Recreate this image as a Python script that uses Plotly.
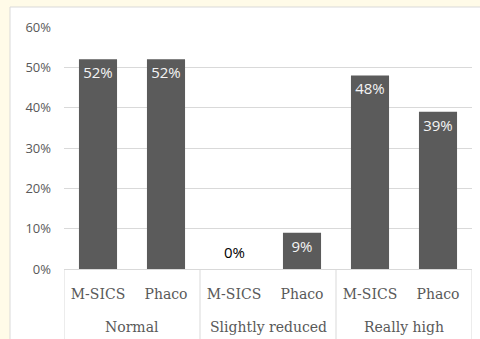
import plotly.graph_objects as go

# Outcome groups and surgical technique for each bar
group_names = ["Normal", "Slightly reduced", "Really high"]
groups = ["Normal", "Normal", "Slightly reduced", "Slightly reduced", "Really high", "Really high"]
techniques = ["M-SICS", "Phaco", "M-SICS", "Phaco", "M-SICS", "Phaco"]
shares = [0.52, 0.52, 0.00, 0.09, 0.48, 0.39]
y_ticks = [0, 0.1, 0.2, 0.3, 0.4, 0.5, 0.6]
y_tick_labels = ["0%", "10%", "20%", "30%", "40%", "50%", "60%"]

W, H = 480, 339
M_L, M_R, M_T, M_B = 64, 8, 27, 70
plot_w = W - M_L - M_R
plot_h = H - M_T - M_B

positions = list(range(len(shares)))
labels = [f"{round(v * 100)}%" for v in shares]
# zero-height bars get their label as an annotation above the baseline
bar_text = ["" if v == 0 else t for v, t in zip(shares, labels)]

GRID = "#d9d9d9"
CREAM = "#fffbe8"
SERIF = "DejaVu Serif, Liberation Serif, serif"
SANS = "Open Sans, Arial, sans-serif"

fig = go.Figure(
    go.Bar(
        x=positions,
        y=shares,
        text=bar_text,
        textposition="inside",
        insidetextanchor="end",
        insidetextfont=dict(color="#f4f4f4", size=15, family=SANS),
        marker=dict(color="#5b5b5b", line=dict(width=0)),
        cliponaxis=False,
        hoverinfo="skip",
    )
)


def px_x(px):
    return (px - M_L) / plot_w


def px_y(px):
    return (H - M_B - px) / plot_h


shapes = [
    # cream frame strips on the left and top of the white chart panel
    dict(type="rect", xref="paper", yref="paper", x0=px_x(0), x1=px_x(10),
         y0=px_y(H), y1=px_y(0), fillcolor=CREAM, line_width=0, layer="below"),
    dict(type="rect", xref="paper", yref="paper", x0=px_x(0), x1=px_x(W),
         y0=px_y(7), y1=px_y(0), fillcolor=CREAM, line_width=0, layer="below"),
    dict(type="line", xref="paper", yref="paper", x0=px_x(10), x1=px_x(10),
         y0=px_y(H), y1=px_y(7), line=dict(color=GRID, width=1), layer="below"),
    dict(type="line", xref="paper", yref="paper", x0=px_x(10), x1=px_x(W),
         y0=px_y(7), y1=px_y(7), line=dict(color=GRID, width=1), layer="below"),
]

# group dividers below the axis and group labels
n_groups = len(group_names)
per_group = len(shares) // n_groups
for g in range(n_groups + 1):
    xd = g * per_group - 0.5
    shapes.append(dict(type="line", xref="x", yref="paper", x0=xd, x1=xd,
                       y0=0, y1=px_y(H + 5), line=dict(color=GRID, width=1)))

annotations = []
for g, name in enumerate(group_names):
    annotations.append(dict(
        x=g * per_group + (per_group - 1) / 2, xref="x",
        y=0, yref="paper", yshift=-58, yanchor="middle",
        text=name, showarrow=False,
        font=dict(size=14, color="#595959", family=SERIF),
    ))

for i, (v, t) in enumerate(zip(shares, labels)):
    if v == 0:
        annotations.append(dict(
            x=i, xref="x", y=v, yref="y", yshift=17, yanchor="middle",
            text=t, showarrow=False,
            font=dict(size=15, color="#000000", family=SANS),
        ))

fig.update_layout(
    width=W,
    height=H,
    margin=dict(l=M_L, r=M_R, t=M_T, b=M_B),
    paper_bgcolor="white",
    plot_bgcolor="white",
    bargap=0.44,
    showlegend=False,
    shapes=shapes,
    annotations=annotations,
)

fig.update_yaxes(
    range=[0, 0.6],
    tickvals=y_ticks,
    ticktext=y_tick_labels,
    showgrid=True,
    gridcolor=GRID,
    gridwidth=1,
    zeroline=False,
    showline=False,
    ticks="",
    ticklabelstandoff=12,
    tickfont=dict(size=13, color="#595959", family=SANS),
)

fig.update_xaxes(
    range=[-0.5, len(shares) - 0.5],
    tickvals=positions,
    ticktext=techniques,
    showgrid=False,
    zeroline=False,
    showline=True,
    linecolor=GRID,
    linewidth=1,
    ticks="",
    ticklabelstandoff=12,
    tickfont=dict(size=14, color="#595959", family=SERIF),
)

fig.write_html("out.html")
